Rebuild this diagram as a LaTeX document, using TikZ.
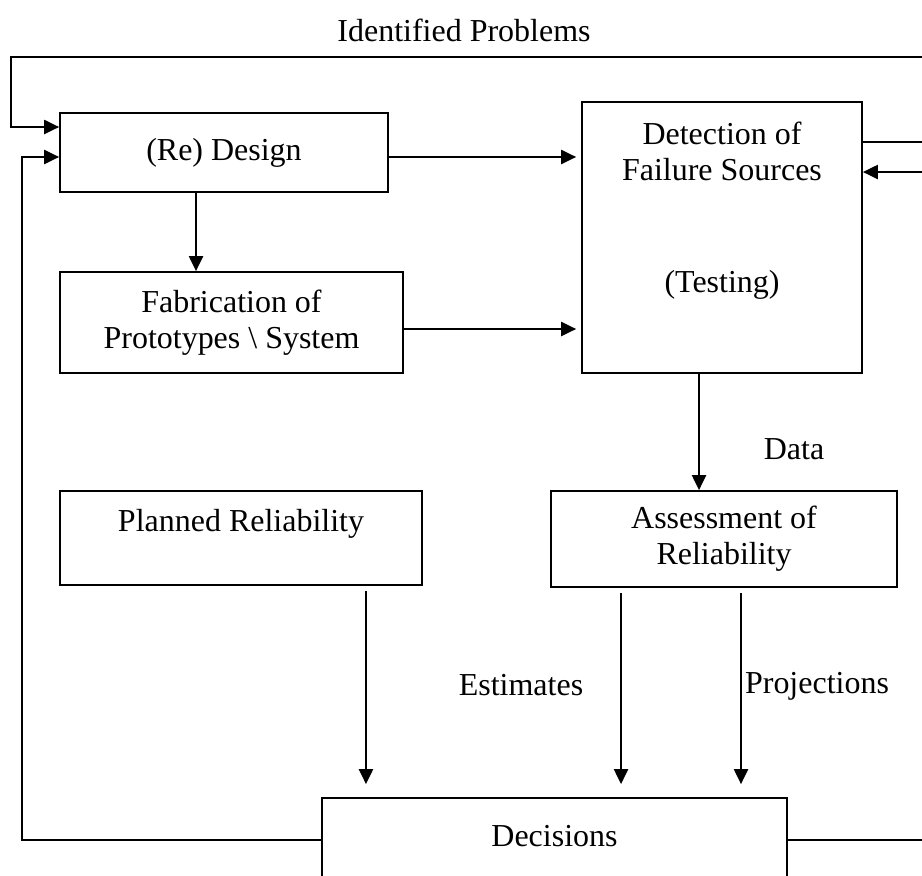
\documentclass[tikz,border=0pt]{standalone}
\usepackage{fontspec}
\setmainfont{Liberation Serif}
\usetikzlibrary{arrows.meta}

\begin{document}
\begin{tikzpicture}
		[x=0.02cm, y=-0.02cm,
		font=\fontsize{18.2}{20.5}\selectfont,
		block/.style ={rectangle, draw=black, line width=1pt, align=center, inner sep=0pt},
		line/.style ={line width=1.2pt, -{Triangle[length=0.3cm,width=0.28cm]}},
		nonrect/.style = {align=center, inner sep=0pt},
		]
		\clip (0,0) rectangle (922,875);

		\draw (464,30) node[nonrect] (TOP) {Identified Problems};

		\draw (224,152.5) node[block, minimum width=6.56cm, minimum height=1.58cm] (DES) {(Re) Design};
		\draw (231.5,322.5) node[block, minimum width=6.86cm, minimum height=2.02cm] (FAB) {Fabrication of\\Prototypes \textbackslash{} System};
		\draw (722,237.5) node[block, minimum width=5.6cm, minimum height=5.42cm] (DET) {Detection of\\Failure Sources\\[1.52cm](Testing)\\[0.5cm]\mbox{}};
		\draw (241,538) node[block, minimum width=7.24cm, minimum height=1.88cm] (PLR) {Planned Reliability\\\mbox{}};
		\draw (724,539) node[block, minimum width=6.92cm, minimum height=1.92cm] (ASR) {Assessment of\\Reliability};
		\draw (554.5,854) node[block, minimum width=9.3cm, minimum height=2.24cm] (DEC) {Decisions\\\mbox{}};

		\draw (794,449) node[nonrect] (DATA) {Data};
		\draw (521,685) node[nonrect] (EST) {Estimates};
		\draw (817,686) node[nonrect] (PROJ) {Projections};

		\coordinate (TR) at (940,57);
		\coordinate (TL) at (11,57);
		\coordinate (RX) at (940,500);
		\coordinate (LX) at (22,500);

		\path[line]
		([xshift=-0.56cm]DES.south) edge ([xshift=-0.56cm]DES.south |- FAB.north)
		([yshift=-0.09cm]DES.east) edge[shorten >=0.1cm] ([yshift=-0.09cm]DES.east -| DET.west)
		([yshift=-0.13cm]FAB.east) edge[shorten >=0.1cm] ([yshift=-0.13cm]FAB.east -| DET.west)
		([xshift=-0.46cm]DET.south) edge ([xshift=-0.46cm]DET.south |- ASR.north)
		([xshift=2.5cm]PLR.south) edge[shorten <=0.1cm, shorten >=0.26cm] ([xshift=2.5cm]PLR.south |- DEC.north)
		([xshift=-2.06cm]ASR.south) edge[shorten <=0.1cm, shorten >=0.26cm] ([xshift=-2.06cm]ASR.south |- DEC.north)
		([xshift=0.34cm]ASR.south) edge[shorten <=0.1cm, shorten >=0.26cm] ([xshift=0.34cm]ASR.south |- DEC.north);

		\draw[line] ([yshift=1.91cm]DET.east) -| (TR) -- (TL) |- ([yshift=0.51cm]DES.west);
		\draw[line] ([yshift=0.28cm]DEC.east) -| (RX) |- ([yshift=1.31cm]DET.east);
		\draw[line] ([yshift=0.28cm]DEC.west) -| (LX) |- ([yshift=-0.09cm]DES.west);

	\end{tikzpicture}
\end{document}
